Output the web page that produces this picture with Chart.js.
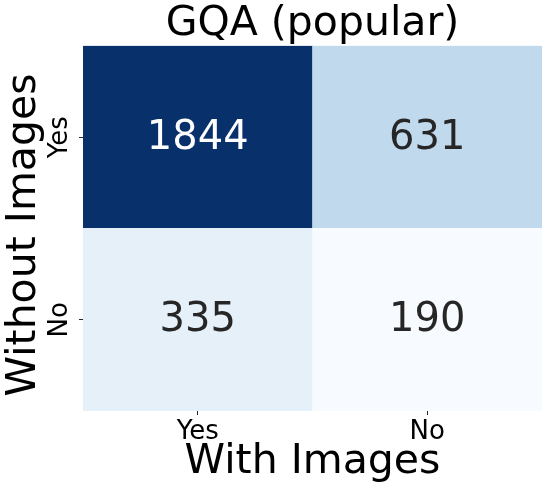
<!DOCTYPE html>
<html lang="en">
<head>
    <meta charset="UTF-8">
    <title>GQA (popular)</title>
    <script src="https://cdn.jsdelivr.net/npm/chart.js"></script>
    <style>
        body { margin: 0; background: #fff; }
        canvas { display: block; }
    </style>
</head>
<body>
    <canvas id="myChart" width="548" height="494"></canvas>

<script>
    // columns = With Images, rows = Without Images (top to bottom)
    const withImages = ['Yes', 'No'];
    const withoutImages = ['Yes', 'No'];
    const rowYes = [1844, 631];
    const rowNo = [335, 190];

    const FONT = 'DejaVu Sans';

    // matplotlib "Blues"
    const blues = ['#f7fbff', '#deebf7', '#c6dbef', '#9ecae1', '#6baed6', '#4292c6', '#2171b5', '#08519c', '#08306b'];
    const allCounts = rowYes.concat(rowNo);
    const vmin = Math.min(...allCounts);
    const vmax = Math.max(...allCounts);

    function hexToRgb(h) {
        return [parseInt(h.substr(1, 2), 16), parseInt(h.substr(3, 2), 16), parseInt(h.substr(5, 2), 16)];
    }

    function bluesRgb(v) {
        var t = (v - vmin) / (vmax - vmin);
        var p = t * (blues.length - 1);
        var i = Math.min(Math.floor(p), blues.length - 2);
        var f = p - i;
        var a = hexToRgb(blues[i]), b = hexToRgb(blues[i + 1]);
        return a.map(function (c, k) { return Math.round(c + (b[k] - c) * f); });
    }

    function toCss(rgb) {
        return 'rgb(' + rgb.join(',') + ')';
    }

    // same rule as seaborn for the annotation colour
    function textColor(rgb) {
        var c = rgb.map(function (x) {
            x = x / 255;
            return x <= 0.03928 ? x / 12.92 : Math.pow((x + 0.055) / 1.055, 2.4);
        });
        var lum = 0.2126 * c[0] + 0.7152 * c[1] + 0.0722 * c[2];
        return lum > 0.408 ? '#262626' : '#ffffff';
    }

    function makeRow(label, counts) {
        return {
            label: label,
            counts: counts,
            data: counts.map(function () { return 1; }),
            backgroundColor: counts.map(function (v) { return toCss(bluesRgb(v)); }),
            borderWidth: 0,
            barPercentage: 1,
            categoryPercentage: 1
        };
    }

    // bottom of the stack first
    const data = {
        labels: withImages,
        datasets: [
            makeRow('No', rowNo),
            makeRow('Yes', rowYes)
        ]
    };

    const annotate = {
        id: 'annotate',
        afterDatasetsDraw: function (chart) {
            var ctx = chart.ctx;
            ctx.save();
            ctx.font = '40px "' + FONT + '"';
            ctx.textAlign = 'center';
            ctx.textBaseline = 'alphabetic';
            chart.data.datasets.forEach(function (ds, di) {
                chart.getDatasetMeta(di).data.forEach(function (bar, i) {
                    var p = bar.getProps(['x', 'y', 'base'], true);
                    var v = ds.counts[i];
                    ctx.fillStyle = textColor(bluesRgb(v));
                    ctx.fillText(String(v), p.x, (p.y + p.base) / 2 + 11.5);
                });
            });
            ctx.restore();
        }
    };

    const config = {
        type: 'bar',
        data: data,
        options: {
            responsive: false,
            animation: false,
            layout: { padding: { top: 0, right: 6, bottom: 0, left: 0 } },
            plugins: {
                legend: { display: false },
                tooltip: { enabled: false },
                title: {
                    display: true,
                    fullSize: false,
                    text: 'GQA (popular)',
                    color: '#000',
                    font: { family: FONT, size: 41, weight: 'normal', lineHeight: 1.07 },
                    padding: { top: 2, bottom: 0 }
                }
            },
            scales: {
                x: {
                    stacked: true,
                    afterFit: function (s) { s.height = 83; },
                    border: { display: false },
                    grid: { offset: false, drawOnChartArea: false, tickLength: 4, color: '#262626' },
                    ticks: { color: '#000', font: { family: FONT, size: 26 }, padding: 2 },
                    title: {
                        display: true,
                        text: 'With Images',
                        color: '#000',
                        font: { family: FONT, size: 41, lineHeight: 1.2 },
                        padding: { top: 0, bottom: 7 }
                    }
                },
                y: {
                    stacked: true,
                    min: 0,
                    max: withoutImages.length,
                    afterFit: function (s) { s.width = 83; },
                    afterBuildTicks: function (s) {
                        s.ticks = withoutImages.map(function (_, i) {
                            return { value: withoutImages.length - 0.5 - i };
                        });
                    },
                    border: { display: false },
                    grid: { drawOnChartArea: false, tickLength: 4, color: '#262626' },
                    ticks: {
                        color: '#000',
                        font: { family: FONT, size: 26 },
                        padding: -2,
                        minRotation: 90,
                        maxRotation: 90,
                        crossAlign: 'center',
                        callback: function (value) {
                            return withoutImages[Math.round(withoutImages.length - 0.5 - value)];
                        }
                    },
                    title: {
                        display: true,
                        text: 'Without Images ',
                        color: '#000',
                        font: { family: FONT, size: 41, lineHeight: 1.15 },
                        padding: { top: 1, bottom: 0 }
                    }
                }
            }
        },
        plugins: [annotate]
    };

    const myChart = new Chart(document.getElementById('myChart'), config);
</script>
</body>
</html>
